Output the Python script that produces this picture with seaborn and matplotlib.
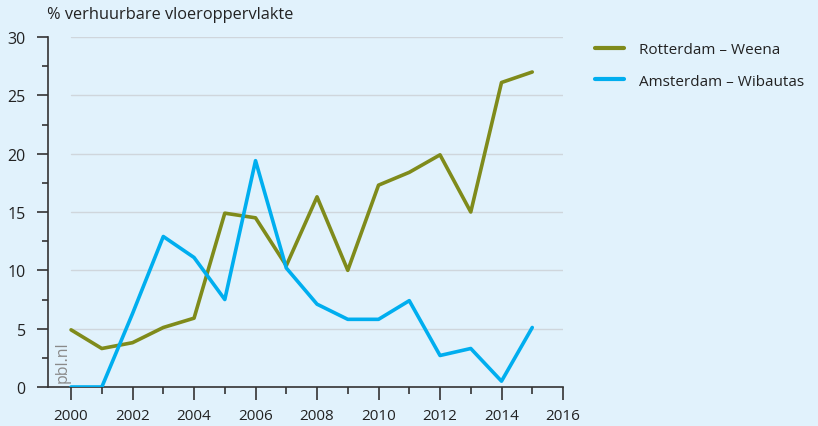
import numpy as np
import pandas as pd
import matplotlib
matplotlib.use("Agg")
import matplotlib.pyplot as plt
from matplotlib.ticker import MultipleLocator
import seaborn as sns

# Data
years = list(range(2000, 2016))
rotterdam = [4.9, 3.3, 3.8, 5.1, 5.9, 14.9, 14.5, 10.4, 16.3, 10.0, 17.3, 18.4, 19.9, 15.0, 26.1, 27.0]
amsterdam = [0.0, 0.0, 6.3, 12.9, 11.1, 7.5, 19.4, 10.2, 7.1, 5.8, 5.8, 7.4, 2.7, 3.3, 0.5, 5.1]
series_names = ["Rotterdam \u2013 Weena", "Amsterdam \u2013 Wibautas"]
colors = ["#7f8b1b", "#00aeef"]

df = pd.DataFrame({
    "jaar": years * 2,
    "waarde": rotterdam + amsterdam,
    "locatie": [series_names[0]] * len(years) + [series_names[1]] * len(years),
})

sns.set_style("white")
plt.rcParams["font.family"] = ["Open Sans", "DejaVu Sans"]
bg = "#e1f2fc"

fig = plt.figure(figsize=(8.18, 4.27), dpi=100, facecolor=bg)
ax = fig.add_axes([48 / 818, 1 - 388 / 427, (563 - 48) / 818, 350 / 427])
ax.set_facecolor(bg)

# horizontal grid lines only across the data range
for v in [5, 10, 15, 20, 25, 30]:
    ax.plot([2000, 2016], [v, v], color="#cfd6dc", lw=1, zorder=1)

sns.lineplot(data=df, x="jaar", y="waarde", hue="locatie", palette=colors,
             linewidth=2.6, ax=ax, zorder=3)

ax.set_xlim(1999.25, 2016)
ax.set_ylim(0, 30)
ax.xaxis.set_major_locator(MultipleLocator(2))
ax.xaxis.set_minor_locator(MultipleLocator(1))
ax.yaxis.set_major_locator(MultipleLocator(5))
ax.yaxis.set_minor_locator(MultipleLocator(2.5))
ax.tick_params(axis="x", which="major", length=9, width=1.2, color="#333333",
               labelsize=11, pad=6, labelcolor="#222222")
ax.tick_params(axis="x", which="minor", length=5, width=1.2, color="#333333")
ax.tick_params(axis="y", which="major", length=8, width=1.2, color="#333333",
               labelsize=11.5, pad=8, labelcolor="#222222")
ax.tick_params(axis="y", which="minor", length=4, width=1.2, color="#333333")
ax.xaxis.set_ticks_position("bottom")
ax.yaxis.set_ticks_position("left")
ax.set_xticks(range(2000, 2017, 2))
ax.set_xticklabels([str(y) for y in range(2000, 2017, 2)])

for side in ["top", "right"]:
    ax.spines[side].set_visible(False)
for side in ["left", "bottom"]:
    ax.spines[side].set_color("#333333")
    ax.spines[side].set_linewidth(1.2)

ax.set_xlabel("")
ax.set_ylabel("")
fig.text(47 / 818, 1 - 15 / 427, "% verhuurbare vloeroppervlakte", fontsize=11.8,
         color="#222222", ha="left", va="center")
ax.text(1999.45, 0.4, "pbl.nl", rotation=90, fontsize=11.5, color="#8a8a8a",
        ha="left", va="bottom")

leg = ax.legend(loc="upper left", bbox_to_anchor=(1.035, 1.025), frameon=False,
                fontsize=11, handlelength=1.9, handletextpad=1.0, labelspacing=1.1)
for line in leg.get_lines():
    line.set_linewidth(3)
for t in leg.get_texts():
    t.set_color("#222222")

fig.savefig("out.png", dpi=100, facecolor=bg)
